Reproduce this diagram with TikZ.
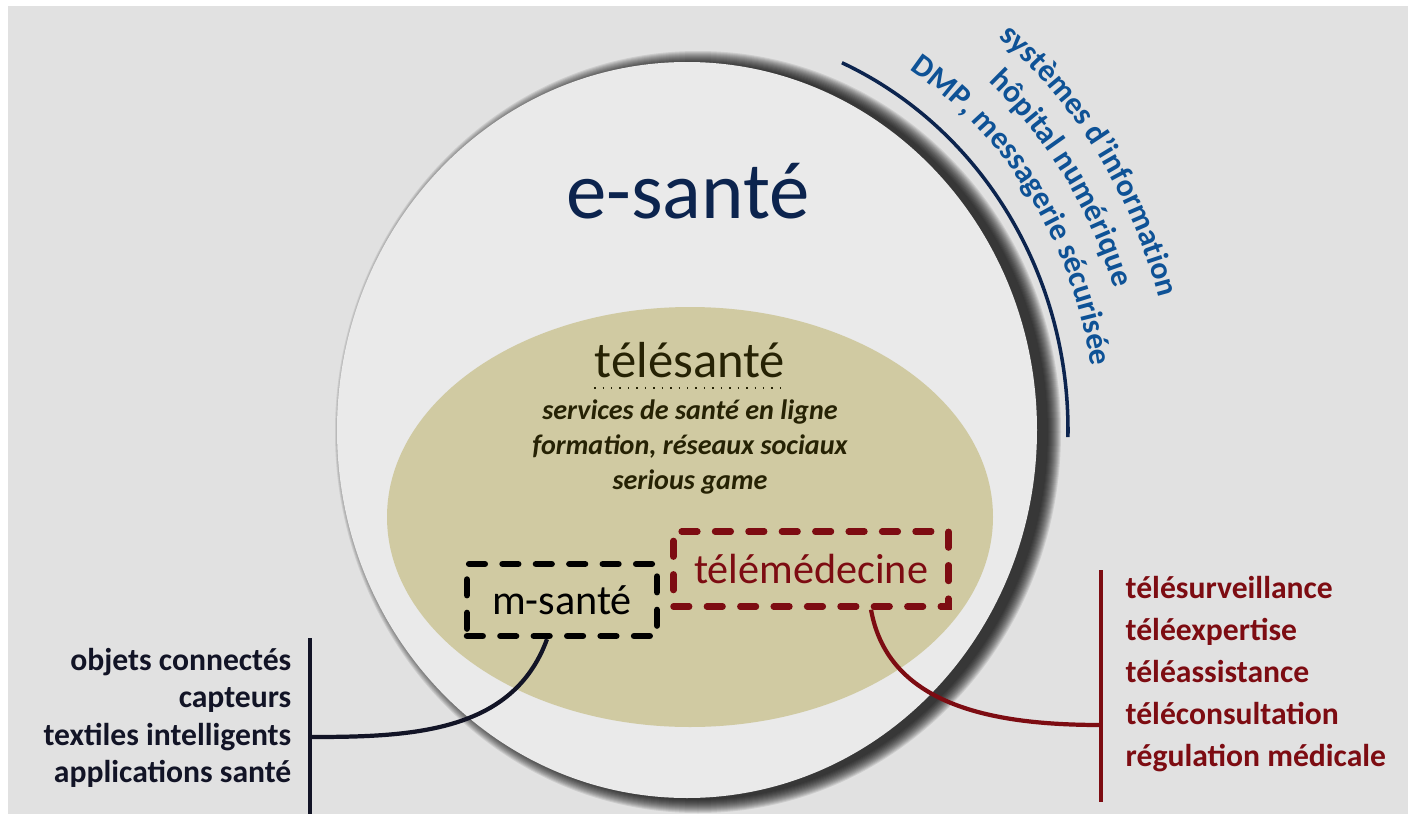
\documentclass[tikz,border=0pt]{standalone}
\usepackage{fontspec}
\setmainfont{Carlito}
\usepackage{tikz}
\usetikzlibrary{positioning,decorations.text}

\definecolor{fond}{RGB}{225,225,225}
\definecolor{disque}{RGB}{234,234,234}
\definecolor{olive}{RGB}{208,202,162}
\definecolor{marine}{RGB}{12,36,78}
\definecolor{bleuarc}{RGB}{14,82,150}
\definecolor{olivefonce}{RGB}{38,34,4}
\definecolor{rouge}{RGB}{125,12,18}
\definecolor{noirbleu}{RGB}{18,20,38}
\newcommand\courbe{\fontsize{9}{9}\selectfont\bfseries\color{bleuarc}}

\begin{document}
\begin{tikzpicture}[x=0.01cm,y=0.01cm,
  boite/.style={draw,line width=1.8pt,line cap=round,dash pattern=on 4.5pt off 5pt,
    inner sep=0pt,font=\fontsize{12}{14}\selectfont},
  liste/.style={font=\fontsize{9}{#1}\selectfont\bfseries,inner sep=0pt},
  texte courbe/.style={decorate,decoration={text along path,text align=center,text={|\courbe|#1}}}]
\useasboundingbox (0,0) rectangle (1408,814);
\fill[white] (0,0) rectangle (1408,814);
\fill[fond] (8,0) rectangle (1408,808);
% ombre et disque e-sante
\foreach \d in {0,1,...,13}
  \fill[black,opacity=0.09] (698,382) ellipse [x radius=350+\d, y radius=368+\d];
\fill[disque] (687,384) ellipse [x radius=350, y radius=368];
\fill[olive] (690,297) ellipse [x radius=303, y radius=210];

\node[font=\fontsize{23}{23}\selectfont,text=marine,anchor=base] (esante) at (688,596) {e-santé};

% arc et textes courbes
\draw[marine,line width=1pt] (687,384) ++(66:381 and 402) arc[start angle=66,end angle=-1,x radius=381,y radius=402];
\path[texte courbe={systèmes d'information}] (687,384) ++(70:488 and 510) arc[start angle=70,end angle=-4,x radius=488,y radius=510];
\path[texte courbe={hôpital numérique}] (687,384) ++(70:448 and 470) arc[start angle=70,end angle=-4,x radius=448,y radius=470];
\path[texte courbe={DMP, messagerie sécurisée}] (687,384) ++(70:408 and 430) arc[start angle=70,end angle=-4,x radius=408,y radius=430];

\node[font=\fontsize{14.4}{16}\selectfont,text=olivefonce,anchor=base,inner sep=0pt] (telesante) at (690,437) {télésanté};
\draw[olivefonce,dotted] ([yshift=-0.11cm]telesante.base west) -- ([yshift=-0.11cm]telesante.base east);
\node[font=\fontsize{8}{10}\selectfont\bfseries\itshape,text=olivefonce,align=center] (services) at (690,367)
  {services de santé en ligne\\formation, réseaux sociaux\\serious game};

\node[boite,minimum width=1.9cm,minimum height=0.72cm] (msante) at (562,214) {m-santé};
\node[boite,rouge,minimum width=2.75cm,minimum height=0.75cm] (telemed) at (811,245) {télémédecine};

% m-sante
\coordinate (lhaut) at (310,176);
\coordinate (lbas) at (310,0);
\coordinate (ljoint) at (310,77);
\draw[noirbleu,line width=1.4pt] (lhaut) -- (lbas);
\draw[noirbleu,line width=1.2pt] ([xshift=-0.15cm]msante.south) to[out=-110,in=0] (ljoint);
\node[liste=10.6,text=noirbleu,align=right,anchor=east] (objets) at (292,96)
  {objets connectés\\capteurs\\textiles intelligents\\applications santé};

% telemedecine
\coordinate (rhaut) at (1101,244);
\coordinate (rbas) at (1101,12);
\coordinate (rjoint) at (1101,89);
\draw[rouge,line width=1.4pt] (rhaut) -- (rbas);
\draw[rouge,line width=1.2pt] ([xshift=0.6cm]telemed.south) to[out=-80,in=180] (rjoint);
\node[liste=12,text=rouge,align=left,anchor=west] (tele) at (1125,140)
  {télésurveillance\\téléexpertise\\téléassistance\\téléconsultation\\régulation médicale};
\end{tikzpicture}
\end{document}
